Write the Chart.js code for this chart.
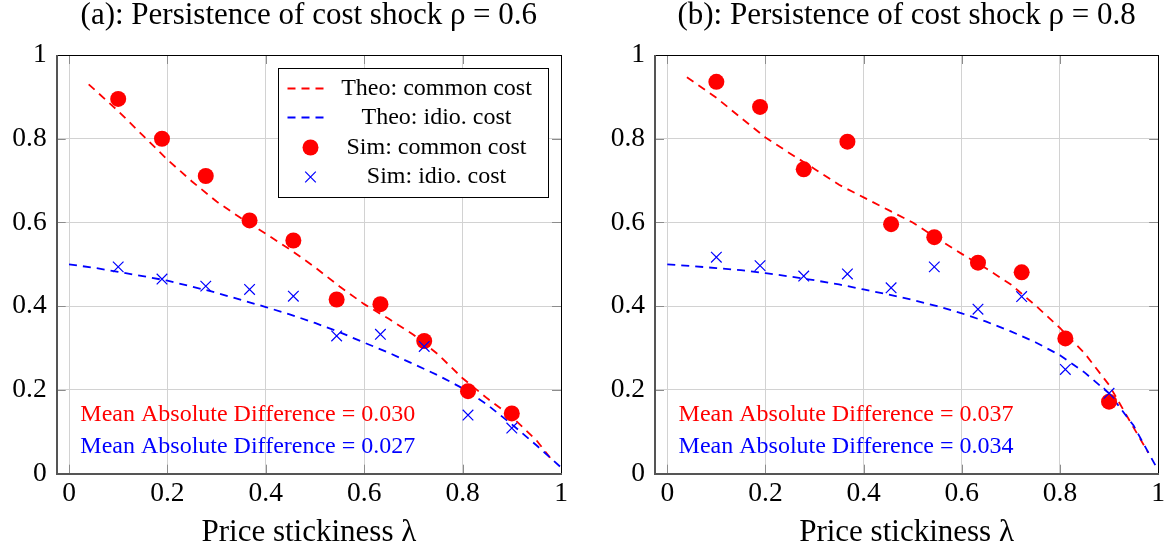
<!DOCTYPE html>
<html>
<head>
<meta charset="utf-8">
<script src="https://cdn.jsdelivr.net/npm/chart.js"></script>
<style>
  html, body { margin: 0; padding: 0; background: #fff; }
  #wrap { position: relative; width: 1169px; height: 554px; overflow: hidden; }
  canvas { position: absolute; top: 0; }
</style>
</head>
<body>
<div id="wrap">
  <canvas id="panelA" width="584" height="554" style="left:0px"></canvas>
  <canvas id="panelB" width="585" height="554" style="left:584px"></canvas>
</div>
<script>
// ---- data -------------------------------------------------------------
// simulated points: price stickiness lambda and pass-through estimates
const simLambda  = [0.1, 0.189, 0.278, 0.367, 0.456, 0.544, 0.633, 0.722, 0.811, 0.9];
const simCommonA = [0.895, 0.800, 0.711, 0.605, 0.557, 0.416, 0.405, 0.317, 0.197, 0.144];
const simIdioA   = [0.494, 0.465, 0.448, 0.440, 0.424, 0.329, 0.333, 0.304, 0.140, 0.109];
const simCommonB = [0.936, 0.876, 0.727, 0.793, 0.596, 0.565, 0.504, 0.481, 0.323, 0.172];
const simIdioB   = [0.517, 0.497, 0.472, 0.477, 0.444, 0.494, 0.393, 0.423, 0.249, 0.192];

// theoretical curves
const theoCommonLambda = [0.04, 0.1, 0.15, 0.2, 0.25, 0.3, 0.35, 0.4, 0.45, 0.5, 0.55, 0.6, 0.65, 0.7, 0.75, 0.8, 0.85, 0.9, 0.95, 0.98];
const theoCommonA = [0.930, 0.866, 0.808, 0.750, 0.698, 0.650, 0.610, 0.573, 0.535, 0.493, 0.447, 0.405, 0.370, 0.332, 0.285, 0.228, 0.180, 0.136, 0.080, 0.035];
const theoCommonB = [0.947, 0.898, 0.850, 0.803, 0.765, 0.728, 0.690, 0.660, 0.630, 0.600, 0.562, 0.525, 0.490, 0.452, 0.402, 0.348, 0.288, 0.212, 0.110, 0.050];

const theoIdioLambda = [0, 0.05, 0.1, 0.15, 0.2, 0.25, 0.3, 0.35, 0.4, 0.45, 0.5, 0.55, 0.6, 0.65, 0.7, 0.75, 0.8, 0.85, 0.9, 0.95, 1.0];
const theoIdioA = [0.500, 0.492, 0.482, 0.472, 0.461, 0.447, 0.432, 0.415, 0.398, 0.380, 0.360, 0.338, 0.313, 0.289, 0.262, 0.235, 0.204, 0.165, 0.118, 0.068, 0.015];
const theoIdioB = [0.500, 0.496, 0.491, 0.486, 0.479, 0.471, 0.462, 0.452, 0.440, 0.428, 0.415, 0.400, 0.383, 0.363, 0.340, 0.314, 0.283, 0.242, 0.192, 0.115, 0.008];

// axis ticks
const xTicks = [0, 0.2, 0.4, 0.6, 0.8, 1];
const xTickLabels = ['0', '0.2', '0.4', '0.6', '0.8', '1'];
const yTicks = [0, 0.2, 0.4, 0.6, 0.8, 1];
const yTickLabels = ['0', '0.2', '0.4', '0.6', '0.8', '1'];

// texts
const seriesLabels = ['Theo: common cost', 'Theo: idio. cost', 'Sim: common cost', 'Sim: idio. cost'];
const panelTitles = ['(a): Persistence of cost shock \u03C1 = 0.6', '(b): Persistence of cost shock \u03C1 = 0.8'];
const xAxisTitle = 'Price stickiness \u03BB';
const madCommon = ['0.030', '0.037'];
const madIdio = ['0.027', '0.034'];

// ---- drawing ----------------------------------------------------------
const RED = '#ff0000';
const BLUE = '#0000ff';
const SERIF = "'Liberation Serif', 'Times New Roman', serif";
Chart.defaults.font.family = SERIF;
Chart.defaults.color = '#000';

const pairs = (xs, ys) => xs.map((x, i) => ({ x: x, y: ys[i] }));

// frame of the plot box with inward tick marks
const frameTicks = {
  id: 'frameTicks',
  beforeDatasetsDraw(chart) {
    const { ctx, chartArea: a, scales } = chart;
    const L = 9;
    ctx.save();
    ctx.strokeStyle = '#8c8c8c';
    ctx.lineWidth = 1;
    ctx.beginPath();
    xTicks.forEach(v => {
      const px = Math.round(scales.x.getPixelForValue(v)) + 0.5;
      ctx.moveTo(px, a.bottom); ctx.lineTo(px, a.bottom - L);
      ctx.moveTo(px, a.top); ctx.lineTo(px, a.top + L);
    });
    yTicks.forEach(v => {
      const py = Math.round(scales.y.getPixelForValue(v)) + 0.5;
      ctx.moveTo(a.left, py); ctx.lineTo(a.left + L, py);
      ctx.moveTo(a.right, py); ctx.lineTo(a.right - L, py);
    });
    ctx.stroke();
    ctx.strokeStyle = '#000';
    ctx.lineWidth = 1;
    ctx.strokeRect(Math.round(a.left) + 0.5, Math.round(a.top) + 0.5,
                   Math.round(a.right) - Math.round(a.left), Math.round(a.bottom) - Math.round(a.top));
    ctx.strokeStyle = '#555';
    ctx.lineWidth = 2;
    ctx.beginPath();
    ctx.moveTo(Math.round(a.left), Math.round(a.top));
    ctx.lineTo(Math.round(a.left), Math.round(a.bottom));
    ctx.lineTo(Math.round(a.right) + 1, Math.round(a.bottom));
    ctx.stroke();
    ctx.restore();
  }
};

// "Mean Absolute Difference" notes, placed in data coordinates
const madNotes = {
  id: 'madNotes',
  afterDatasetsDraw(chart, args, opts) {
    const { ctx, scales } = chart;
    ctx.save();
    ctx.font = '24px ' + SERIF;
    ctx.textAlign = 'left';
    ctx.textBaseline = 'middle';
    const x0 = scales.x.getPixelForValue(0.023);
    ctx.fillStyle = RED;
    ctx.fillText('Mean Absolute Difference = ' + opts.common, x0, scales.y.getPixelForValue(0.140));
    ctx.fillStyle = BLUE;
    ctx.fillText('Mean Absolute Difference = ' + opts.idio, x0, scales.y.getPixelForValue(0.065));
    ctx.restore();
  }
};

// boxed legend inside the plot area (top right)
const boxLegend = {
  id: 'boxLegend',
  afterDatasetsDraw(chart, args, opts) {
    if (!opts.show) return;
    const { ctx, chartArea: a } = chart;
    const w = 270, h = 129;
    const left = Math.round(a.right - 13 - w) + 0.5;
    const top = Math.round(a.top + 13) + 0.5;
    ctx.save();
    ctx.fillStyle = '#fff';
    ctx.fillRect(left, top, w, h);
    ctx.strokeStyle = '#000';
    ctx.lineWidth = 1;
    ctx.strokeRect(left, top, w, h);
    const rows = [20, 49, 79, 108.5];
    const symX = left + 32;
    const textX = left + 158;
    chart.data.datasets.forEach((ds, i) => {
      const cy = top + rows[i];
      if (ds.showLine) {
        ctx.strokeStyle = ds.borderColor;
        ctx.lineWidth = ds.borderWidth;
        ctx.setLineDash(ds.borderDash);
        ctx.beginPath();
        ctx.moveTo(left + 9, cy);
        ctx.lineTo(left + 50, cy);
        ctx.stroke();
        ctx.setLineDash([]);
      } else if (ds.pointStyle === 'circle') {
        ctx.fillStyle = ds.backgroundColor;
        ctx.beginPath();
        ctx.arc(symX, cy, ds.pointRadius, 0, Math.PI * 2);
        ctx.fill();
      } else {
        const r = ds.pointRadius * Math.SQRT1_2;
        ctx.strokeStyle = ds.borderColor;
        ctx.lineWidth = ds.borderWidth;
        ctx.beginPath();
        ctx.moveTo(symX - r, cy - r); ctx.lineTo(symX + r, cy + r);
        ctx.moveTo(symX - r, cy + r); ctx.lineTo(symX + r, cy - r);
        ctx.stroke();
      }
      ctx.fillStyle = '#000';
      ctx.font = '24px ' + SERIF;
      ctx.textAlign = 'center';
      ctx.textBaseline = 'middle';
      ctx.fillText(ds.label, textX, cy);
    });
    ctx.restore();
  }
};

function buildPanel(canvasId, p) {
  return new Chart(document.getElementById(canvasId), {
    type: 'scatter',
    data: {
      datasets: [
        { label: seriesLabels[0], data: pairs(theoCommonLambda, p.theoCommon), showLine: true,
          borderColor: RED, backgroundColor: RED, borderWidth: 1.8, borderDash: [8, 6],
          pointRadius: 0, tension: 0, order: 4 },
        { label: seriesLabels[1], data: pairs(theoIdioLambda, p.theoIdio), showLine: true,
          borderColor: BLUE, backgroundColor: BLUE, borderWidth: 1.8, borderDash: [8, 6],
          pointRadius: 0, tension: 0, order: 3 },
        { label: seriesLabels[2], data: pairs(simLambda, p.simCommon), showLine: false,
          pointStyle: 'circle', pointRadius: 8, borderWidth: 0,
          borderColor: RED, backgroundColor: RED, order: 2 },
        { label: seriesLabels[3], data: pairs(simLambda, p.simIdio), showLine: false,
          pointStyle: 'crossRot', pointRadius: 7.5, borderWidth: 1.2,
          borderColor: BLUE, backgroundColor: BLUE, order: 1 }
      ]
    },
    options: {
      responsive: false,
      animation: false,
      devicePixelRatio: 1,
      layout: { autoPadding: false, padding: p.padding },
      scales: {
        x: {
          type: 'linear', position: 'bottom', min: -0.025, max: 1,
          afterBuildTicks: s => { s.ticks = xTicks.map(v => ({ value: v })); },
          afterFit: s => { s.height = 80.3; },
          ticks: { font: { size: 27.5, lineHeight: 1.2 }, padding: 4, color: '#000',
                   callback: (v, i) => xTickLabels[i] },
          grid: { color: '#d2d2d2', lineWidth: 1, drawTicks: false },
          border: { display: false },
          title: { display: true, text: xAxisTitle, color: '#000',
                   font: { size: 31, lineHeight: 1 }, padding: { top: 0, bottom: 5.5 } }
        },
        y: {
          type: 'linear', position: 'left', min: 0, max: 1,
          afterBuildTicks: s => { s.ticks = yTicks.map(v => ({ value: v })); },
          afterFit: s => { s.width = 46; },
          ticks: { font: { size: 27.5 }, padding: 10, color: '#000',
                   callback: (v, i) => yTickLabels[i] },
          grid: { color: '#d2d2d2', lineWidth: 1, drawTicks: false },
          border: { display: false }
        }
      },
      plugins: {
        legend: { display: false },
        tooltip: { enabled: false },
        title: { display: true, text: p.title, fullSize: false, color: '#000',
                 font: { size: 31, weight: 'normal', lineHeight: 1 },
                 padding: { top: 0, bottom: 24 } },
        madNotes: { common: p.madCommon, idio: p.madIdio },
        boxLegend: { show: p.legend }
      }
    },
    plugins: [frameTicks, madNotes, boxLegend]
  });
}

buildPanel('panelA', {
  title: panelTitles[0], theoCommon: theoCommonA, theoIdio: theoIdioA,
  simCommon: simCommonA, simIdio: simIdioA, madCommon: madCommon[0], madIdio: madIdio[0],
  legend: true, padding: { left: 10.7, right: 23, top: 0, bottom: 0 }
});
buildPanel('panelB', {
  title: panelTitles[1], theoCommon: theoCommonB, theoIdio: theoIdioB,
  simCommon: simCommonB, simIdio: simIdioB, madCommon: madCommon[1], madIdio: madIdio[1],
  legend: false, padding: { left: 25, right: 9.7, top: 0, bottom: 0 }
});
</script>
</body>
</html>
